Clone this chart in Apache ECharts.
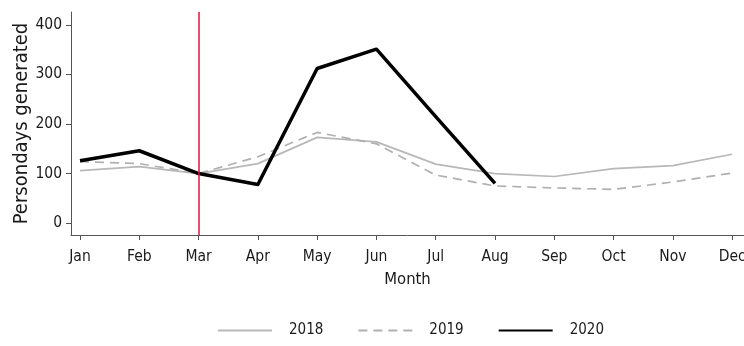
<!DOCTYPE html>
<html>
<head>
<meta charset="utf-8">
<script src="https://cdn.jsdelivr.net/npm/echarts@6/dist/echarts.min.js"></script>
<style>
  html, body { margin: 0; padding: 0; background: #fff; }
  #chart { width: 744px; height: 346px; }
</style>
</head>
<body>
<div id="chart"></div>
<script>
// Monthly persondays generated, by year
const months = ['Jan', 'Feb', 'Mar', 'Apr', 'May', 'Jun', 'Jul', 'Aug', 'Sep', 'Oct', 'Nov', 'Dec'];
const values2018 = [106, 114, 100, 120, 173, 164, 119, 100, 94, 110, 116, 139];
const values2019 = [124, 120, 100, 134, 183, 160, 97, 75, 71, 68, 83, 101];
const values2020 = [126, 146, 100, 78, 312, 351, 215, 80];
const yTicks = [0, 100, 200, 300, 400];
const markerMonth = 'Mar';

const FONT = '"DejaVu Sans Condensed", "Liberation Sans", sans-serif';
const TEXT = '#1a1a1a';
const AXIS = '#555';

const toPoints = arr => arr.map((v, i) => [i, v]);
const monthIdx = months.map((_, i) => i);

const chart = echarts.init(document.getElementById('chart'), null, { renderer: 'canvas' });

chart.setOption({
  animation: false,
  textStyle: { fontFamily: FONT, color: TEXT },
  grid: {
    left: 71, right: 0, top: 12, bottom: 111,
    containLabel: false,
    outerBoundsMode: 'none'
  },
  legend: {
    left: 212,
    top: 318,
    itemWidth: 54,
    itemHeight: 14,
    itemGap: 34,
    itemStyle: { opacity: 0 },
    textStyle: { fontFamily: FONT, fontSize: 15, color: TEXT, padding: [0, 0, 0, 12] },
    data: ['2018', '2019', '2020']
  },
  xAxis: {
    type: 'value',
    min: -0.152,
    max: 11.2,
    name: 'Month',
    nameLocation: 'middle',
    nameGap: 36,
    nameTextStyle: { fontFamily: FONT, fontSize: 16.5, color: TEXT },
    axisLine: { show: true, onZero: false, lineStyle: { color: AXIS, width: 1 } },
    axisTick: { show: true, length: 5, customValues: monthIdx, lineStyle: { color: AXIS } },
    axisLabel: {
      customValues: monthIdx,
      formatter: v => months[Math.round(v)],
      fontFamily: FONT, fontSize: 15.5, color: TEXT, margin: 14
    },
    splitLine: { show: false }
  },
  yAxis: {
    type: 'value',
    min: -24,
    max: 426,
    name: 'Persondays generated',
    nameLocation: 'middle',
    nameGap: 39,
    nameMoveOverlap: false,
    nameTextStyle: { fontFamily: FONT, fontSize: 20, color: TEXT },
    axisLine: { show: true, onZero: false, lineStyle: { color: AXIS, width: 1 } },
    axisTick: { show: true, length: 5, customValues: yTicks, lineStyle: { color: AXIS } },
    axisLabel: { customValues: yTicks, fontFamily: FONT, fontSize: 15.5, color: TEXT, margin: 9 },
    splitLine: { show: false }
  },
  series: [
    {
      name: '2018',
      type: 'line',
      symbol: 'none',
      data: toPoints(values2018),
      lineStyle: { color: '#b8b8b8', width: 1.7 },
      itemStyle: { color: '#b8b8b8' },
      z: 2
    },
    {
      name: '2019',
      type: 'line',
      symbol: 'none',
      data: toPoints(values2019),
      lineStyle: { color: '#b0b0b0', width: 1.7, type: [9, 6] },
      itemStyle: { color: '#b0b0b0' },
      z: 3
    },
    {
      name: '2020',
      type: 'line',
      symbol: 'none',
      data: toPoints(values2020),
      lineStyle: { color: '#000', width: 3.5, join: 'round' },
      itemStyle: { color: '#000' },
      z: 4,
      markLine: {
        silent: true,
        symbol: 'none',
        label: { show: false },
        lineStyle: { color: '#e3123f', width: 1.5, type: 'solid', opacity: 1 },
        data: [
          [
            { coord: [months.indexOf(markerMonth), -24] },
            { coord: [months.indexOf(markerMonth), 426] }
          ]
        ]
      }
    }
  ]
});
</script>
</body>
</html>
